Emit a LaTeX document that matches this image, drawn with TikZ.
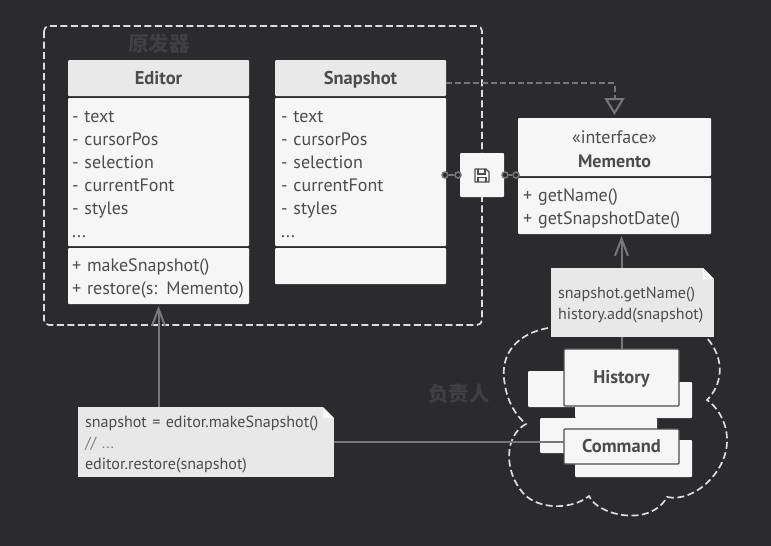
\documentclass[tikz,border=0pt]{standalone}
\usepackage{fontspec}
\setmainfont{PT Sans}
\newfontfamily\cjk{Noto Sans CJK SC}
\usetikzlibrary{arrows.meta}
\definecolor{backcol}{HTML}{2B2B2D}
\definecolor{headcol}{HTML}{E9E9E9}
\definecolor{bodycol}{HTML}{F6F6F6}
\definecolor{notecol}{HTML}{E8E8E8}
\definecolor{inkcol}{HTML}{4C4C4C}
\definecolor{linecol}{HTML}{77777A}
\definecolor{dashcol}{HTML}{DDDDDD}
\definecolor{labelcol}{HTML}{404042}
\newcommand{\listfont}{\fontsize{18}{23}\selectfont}
\newcommand{\titlefont}{\fontsize{18.5}{23}\selectfont\bfseries}
\newcommand{\notefont}{\fontsize{16.1}{21}\selectfont}
\begin{document}
\begin{tikzpicture}[x=1pt,y=-1pt]
    \tikzstyle{part}=[anchor=north west,outer sep=0pt,inner sep=0pt,fill=bodycol,rounded corners=1pt,text=inkcol]
    \tikzstyle{head}=[part,fill=headcol,font=\titlefont,align=center,text height=14pt,text depth=2pt]
    \tikzstyle{members}=[part,font=\listfont,align=left,execute at begin node={\rule{0pt}{17pt}}]
    \tikzstyle{front}=[part,draw=inkcol,line width=1.2pt,font=\titlefont,text height=14pt,text depth=2pt]
    \tikzstyle{note}=[part,rounded corners=0pt,fill=notecol,font=\notefont,align=left,inner xsep=7pt,inner ysep=4pt,
      execute at begin node={\rule{0pt}{16pt}},
      path picture={
        \fill[backcol] (path picture bounding box.north east) ++(-11,0) -- ++(11,0) -- ++(0,11) -- cycle;
        \fill[white!97!black] (path picture bounding box.north east) ++(-11,0) -- ++(11,11) -- ++(-11,0) -- cycle;}]
    \tikzstyle{links}=[draw=linecol,line width=2pt]
    \tikzstyle{vectors}=[links,-{Straight Barb[length=17pt,width=13pt]}]
    \tikzstyle{joint}=[circle,draw=linecol,fill=backcol,line width=1.5pt,minimum size=6pt,inner sep=0pt]
    \tikzstyle{region}=[draw=dashcol,line width=1.7pt,dash pattern=on 7pt off 3.5pt]
    \fill[backcol] (0,0) rectangle (771,546);
    \useasboundingbox (0,0) rectangle (771,546);

    \draw[region,rounded corners=5pt] (44,26) rectangle (482,325);
    \draw[region] (548,328) .. controls (520,333) and (498,352) .. (505,385)
      .. controls (507,400) and (515,415) .. (526,424)
      .. controls (505,435) and (503,470) .. (523,493)
      .. controls (538,510) and (572,510) .. (589,496)
      .. controls (597,515) and (650,528) .. (667,497)
      .. controls (695,503) and (728,470) .. (727,440)
      .. controls (727,420) and (715,405) .. (707,400)
      .. controls (722,385) and (726,360) .. (707,338);

    \node[labelcol,font=\cjk\fontsize{20.5}{20.5}\selectfont\bfseries] (originlabel) at (159,44) {原发器};
    \node[labelcol,font=\cjk\fontsize{20.5}{20.5}\selectfont\bfseries] (caretakerlabel) at (459,394) {负责人};

    \node[head,minimum width=181pt,minimum height=36pt] (editorhead) at (68,60) {Editor};
    \node[members,text width=173pt,minimum height=148pt,inner xsep=4pt] (editorbody) at (68,98)
      {- text\\- cursorPos\\- selection\\- currentFont\\- styles\\...};
    \node[members,text width=173pt,minimum height=56pt,inner xsep=4pt] (editormethods) at (68,248)
      {+ makeSnapshot()\\+ restore(s: Memento)};

    \node[head,minimum width=171pt,minimum height=36pt] (snapshothead) at (275,60) {Snapshot};
    \node[members,text width=159pt,minimum height=148pt,inner xsep=6pt] (snapshotbody) at (275,98)
      {- text\\- cursorPos\\- selection\\- currentFont\\- styles\\...};
    \node[part,minimum width=171pt,minimum height=36pt] (snapshotmethods) at (275,248) {};

    \node[part,fill=bodycol,align=center,minimum width=193pt,minimum height=58pt,font=\listfont] (mementohead) at (518,118)
      {\rule{0pt}{17pt}«interface»\\[1pt]\textbf{Memento}};
    \node[members,text width=183pt,minimum height=56pt,inner xsep=5pt] (mementobody) at (518,178)
      {+ getName()\\+ getSnapshotDate()};

    \node[part,minimum size=44pt] (save) at (460,153) {};
    \draw[inkcol,line width=1.3pt,line join=round] (475,169) -- (486,169) -- (489,172) -- (489,182) -- (475,182) -- cycle;
    \draw[inkcol,line width=1.1pt] (478,169) -- (478,174) -- (485,174) -- (485,169);
    \draw[inkcol,line width=1.1pt] (478,182) -- (478,177.5) -- (486,177.5) -- (486,182);

    \node[joint] (jointa) at (445,175) {};
    \node[joint] (jointb) at (458,175) {};
    \node[joint] (jointc) at (505,175) {};
    \node[joint] (jointd) at (516,175) {};
    \draw[links] (jointa) -- (jointb);
    \draw[links] (jointc) -- (jointd);

    \draw[links,dash pattern=on 6pt off 3pt,-{Triangle[open,length=17pt,width=20pt,fill=backcol]}]
      ([yshift=-5pt]snapshothead.east) -| ([yshift=3pt]mementohead.north);

    \node[part,minimum width=70pt,minimum height=36pt] (historyleft) at (528,371) {};
    \node[part,minimum width=117pt,minimum height=36pt] (historyright) at (575,382) {};
    \node[part,minimum width=117pt,minimum height=35pt] (commandleft) at (540,418) {};
    \node[part,minimum width=117pt,minimum height=37pt] (commandright) at (575,440) {};
    \node[front,minimum width=115pt,minimum height=57pt] (history) at (564,349) {History};
    \node[front,minimum width=115pt,minimum height=35pt] (command) at (564,429) {Command};

    \node[note,text width=149pt,minimum height=69pt] (notehistory) at (551,268)
      {snapshot.getName()\\history.add(snapshot)};
    \node[note,text width=242pt,minimum height=68pt] (noteeditor) at (78,407)
      {snapshot = editor.makeSnapshot()\\{\color{inkcol!70}// ...}\\editor.restore(snapshot)};

    \draw[vectors] (editormethods.south |- noteeditor.north) -- ([yshift=-2pt]editormethods.south);
    \draw[links] (noteeditor.east) -- (noteeditor.east -| command.west);
    \draw[links] (history.north) -- (history.north |- notehistory.south);
    \draw[vectors] (history.north |- notehistory.north) -- ([yshift=-2pt]history.north |- mementobody.south);
\end{tikzpicture}
\end{document}
